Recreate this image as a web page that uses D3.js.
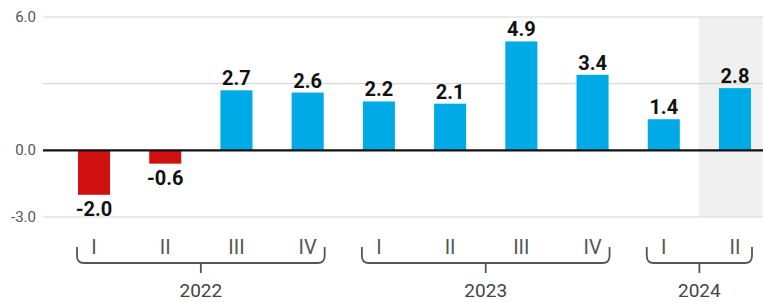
<!DOCTYPE html>
<html><head><meta charset="utf-8">
<script src="https://cdn.jsdelivr.net/npm/d3@7"></script>
<style>body{margin:0;background:#fff}svg{display:block}text{font-family:Roboto,"Noto Sans",sans-serif}</style>
</head><body><svg id="c" width="763" height="302"></svg>
<script>
const quarters = ["I","II","III","IV","I","II","III","IV","I","II"];
const years = ["2022","2022","2022","2022","2023","2023","2023","2023","2024","2024"];
const values = [-2.0,-0.6,2.7,2.6,2.2,2.1,4.9,3.4,1.4,2.8];
const yTicks = [6,3,0,-3];
const yTickLabels = ["6.0","","0.0","-3.0"];
const yearGroups = ["2022","2023","2024"];
const highlightFrom = 9;

const svg = d3.select("#c");
const ids = values.map((d,i)=>i);
const x = d3.scaleBand().domain(ids).range([58.4,770.6]).padding(0);
const y = d3.scaleLinear().domain([-3,6]).range([217,17]);
const barW = x.bandwidth()*0.45;
const cx = i => x(i)+x.bandwidth()/2;

// highlight background
svg.append("rect").attr("x",x(highlightFrom)-0.6).attr("y",y(6)).attr("width",763-x(highlightFrom)).attr("height",y(-3)-y(6)).attr("fill","#f0f0f0");

// gridlines
svg.selectAll(".g").data(yTicks.filter(t=>t!==0)).join("line")
 .attr("x1",43).attr("x2",763).attr("y1",d=>y(d)).attr("y2",d=>y(d))
 .attr("stroke","#d6d6d6").attr("stroke-width",1.2);
svg.selectAll(".yl").data(yTicks).join("text")
 .attr("x",36).attr("y",d=>y(d)+5).attr("text-anchor","end")
 .attr("font-size",15).attr("fill","#555").text((d,i)=>yTickLabels[i]);

// bars
svg.selectAll(".b").data(values).join("rect")
 .attr("x",(d,i)=>cx(i)-barW/2).attr("width",barW)
 .attr("y",d=>y(Math.max(0,d))).attr("height",d=>Math.abs(y(d)-y(0)))
 .attr("fill",d=>d<0?"#d01010":"#00aae6");

// zero line
svg.append("line").attr("x1",43).attr("x2",763).attr("y1",y(0)).attr("y2",y(0)).attr("stroke","#111").attr("stroke-width",2.2);

// value labels
svg.selectAll(".v").data(values).join("text")
 .attr("x",(d,i)=>cx(i)).attr("y",d=>d<0?y(d)+21:y(d)-5)
 .attr("text-anchor","middle").attr("font-size",20).attr("font-weight",700).attr("fill","#111")
 .text(d=>d.toFixed(1));

// quarter labels
svg.selectAll(".q").data(quarters).join("text")
 .attr("x",(d,i)=>cx(i)).attr("y",254).attr("text-anchor","middle")
 .attr("font-size",20).attr("font-weight",400).attr("fill","#555").text(d=>d);

// brackets
yearGroups.forEach(yr=>{
  const idx = ids.filter(i=>years[i]===yr);
  const x0 = cx(idx[0])-17, x1 = cx(idx[idx.length-1])+17;
  const top=247, bot=263, r=7;
  const p = d3.path();
  p.moveTo(x0,top); p.lineTo(x0,bot-r); p.quadraticCurveTo(x0,bot,x0+r,bot);
  p.lineTo(x1-r,bot); p.quadraticCurveTo(x1,bot,x1,bot-r); p.lineTo(x1,top);
  const m=(x0+x1)/2;
  p.moveTo(m,bot); p.lineTo(m,273);
  svg.append("path").attr("d",p.toString()).attr("fill","none").attr("stroke","#555").attr("stroke-width",1.8);
  svg.append("text").attr("x",m).attr("y",297).attr("text-anchor","middle")
   .attr("font-size",19).attr("font-weight",400).attr("fill","#444").text(yr);
});
</script></body></html>
